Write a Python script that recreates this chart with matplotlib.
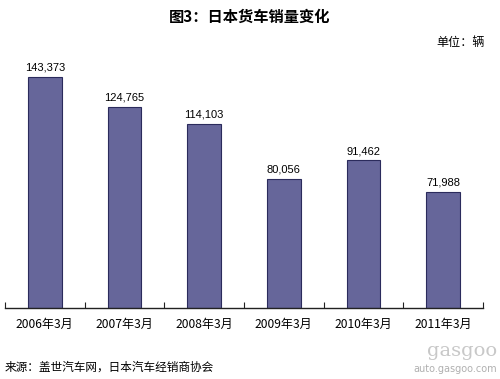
import numpy as np
import matplotlib
matplotlib.use("Agg")
import matplotlib.pyplot as plt

plt.rcParams['font.family'] = ['Noto Sans CJK SC', 'DejaVu Sans']

# Data
categories = ["2006年3月", "2007年3月", "2008年3月", "2009年3月", "2010年3月", "2011年3月"]
sales = [143373, 124765, 114103, 80056, 91462, 71988]

fig = plt.figure(figsize=(5, 3.79), dpi=100)
ax = fig.add_axes([0.01, 0.1873, 0.956, 0.681])

x = np.arange(len(categories))
ax.bar(x, sales, width=0.42, color="#66669a", edgecolor="#2b2b5c", linewidth=0.8)
for xi, v in zip(x, sales):
    ax.text(xi, v + 2500, "{:,}".format(v), ha="center", va="bottom", fontsize=8, family="Liberation Sans")

ax.set_xlim(-0.5, len(categories) - 0.5)
ax.set_ylim(0, 160000)
ax.set_yticks([])
for s in ["top", "right", "left"]:
    ax.spines[s].set_visible(False)
ax.spines["bottom"].set_linewidth(1.0)
ax.spines["bottom"].set_color("#222222")

# boundary ticks between categories, labels centered
ax.set_xticks(np.arange(-0.5, len(categories)), minor=False)
ax.set_xticklabels([])
ax.tick_params(axis="x", length=4, direction="in", color="#222222")
ax.set_xticks(x, minor=True)
ax.set_xticklabels(categories, minor=True, fontsize=8.7)
ax.tick_params(axis="x", which="minor", length=0, pad=7)

fig.text(0.5, 0.955, "图3：日本货车销量变化", ha="center", va="center", fontsize=11, fontweight="bold")
fig.text(0.922, 0.889, "单位：辆", ha="center", va="center", fontsize=8.7)
fig.text(0.01, 0.032, "来源：盖世汽车网，日本汽车经销商协会", ha="left", va="center", fontsize=8.4)
fig.text(0.995, 0.012, "auto.gasgoo.com", ha="right", va="bottom", fontsize=7, color="#b0b0b0", family="DejaVu Sans")
fig.text(0.995, 0.05, "gasgoo", ha="right", va="bottom", fontsize=14, color="#c8c8c8", family="DejaVu Serif")

fig.savefig("out.png", dpi=100)
